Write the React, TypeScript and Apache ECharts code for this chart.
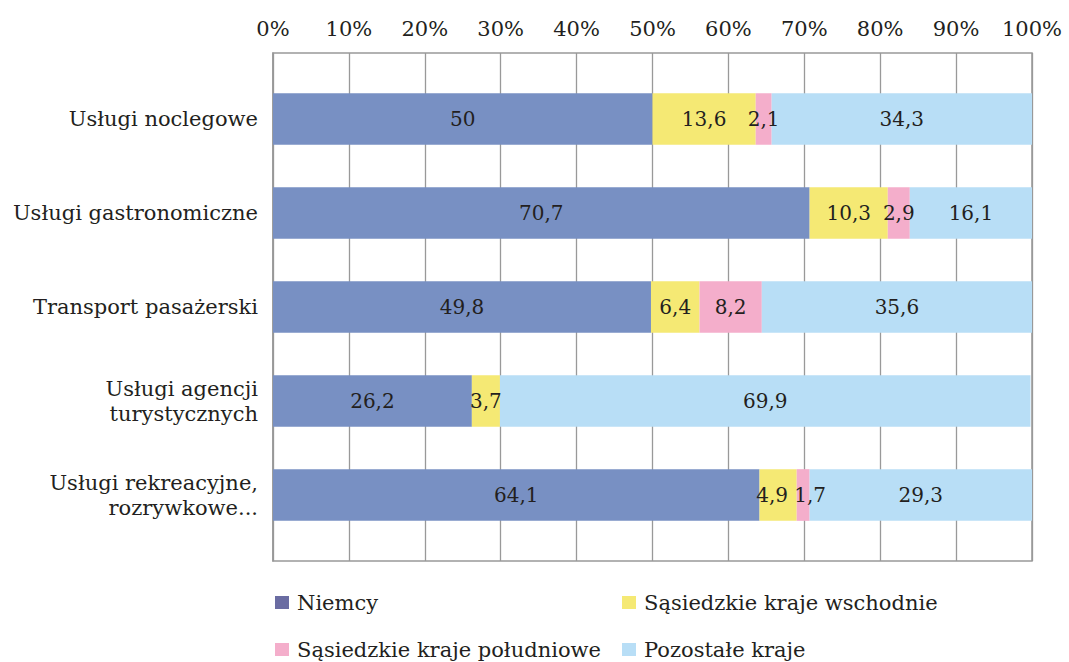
import React, { useEffect, useRef } from "react";
import * as echarts from "echarts";

const categories = [
  "Usługi noclegowe",
  "Usługi gastronomiczne",
  "Transport pasażerski",
  "Usługi agencji\nturystycznych",
  "Usługi rekreacyjne,\nrozrywkowe...",
];
const seriesNames = [
  "Niemcy",
  "Sąsiedzkie kraje wschodnie",
  "Sąsiedzkie kraje południowe",
  "Pozostałe kraje",
];
const niemcy = [50, 70.7, 49.8, 26.2, 64.1];
const wschodnie = [13.6, 10.3, 6.4, 3.7, 4.9];
const poludniowe = [2.1, 2.9, 8.2, 0, 1.7];
const pozostale = [34.3, 16.1, 35.6, 69.9, 29.3];
const tickLabels = ["0%", "10%", "20%", "30%", "40%", "50%", "60%", "70%", "80%", "90%", "100%"];

const colors = ["#7890C3", "#F5E974", "#F4AECB", "#B8DEF6"];
const legendColors = ["#6A6CA2", "#F5E974", "#F4AECB", "#B8DEF6"];
const FONT = "DejaVu Serif";
const TXT = "#231F20";

// label padding (series index -> category index -> padding) to separate crowded labels
const labelPads: Record<number, Record<number, number[]>> = {
  1: { 4: [0, 12, 0, 0] },
  2: { 4: [0, 0, 0, 14] },
};

export default function App() {
  const ref = useRef<HTMLDivElement>(null);
  useEffect(() => {
    const chart = echarts.init(ref.current!, null, { renderer: "svg" });
    const values = [niemcy, wschodnie, poludniowe, pozostale];
    const legendPos = [
      { left: 275, top: 592 },
      { left: 622, top: 592 },
      { left: 275, top: 639 },
      { left: 622, top: 639 },
    ];
    chart.setOption({
      animation: false,
      backgroundColor: "#ffffff",
      textStyle: { fontFamily: FONT },
      grid: [
        {
          left: 273,
          right: 37,
          top: 53,
          bottom: 101,
          show: true,
          borderColor: "#999999",
          borderWidth: 1.5,
        },
        {
          left: 273,
          right: 37,
          top: 72,
          bottom: 120,
          show: false,
        },
      ],
      legend: seriesNames.map((n, i) => ({
        data: [{ name: n, itemStyle: { color: legendColors[i] } }],
        left: legendPos[i].left,
        top: legendPos[i].top,
        itemWidth: 14,
        itemHeight: 13,
        itemGap: 0,
        padding: 0,
        icon: "rect",
        selectedMode: false,
        textStyle: { fontFamily: FONT, fontSize: 21, color: TXT, padding: [0, 0, 0, 3] },
      })),
      xAxis: [
        {
          type: "value",
          gridIndex: 0,
          position: "top",
          min: 0,
          max: 100,
          interval: 10,
          axisLine: { show: false },
          axisTick: { show: false },
          splitLine: { show: true, lineStyle: { color: "#999999", width: 1.3 } },
          axisLabel: {
            fontFamily: FONT,
            fontSize: 21,
            color: TXT,
            margin: 14,
            formatter: (v: number) => tickLabels[Math.round(v / 10)],
          },
        },
        {
          type: "value",
          gridIndex: 1,
          min: 0,
          max: 100,
          interval: 10,
          show: false,
        },
      ],
      yAxis: [
        {
          type: "category",
          gridIndex: 0,
          data: categories,
          inverse: true,
          axisLine: { show: true, lineStyle: { color: "#999999", width: 1.5 } },
          axisTick: { show: false },
          axisLabel: { show: false },
        },
        {
          type: "category",
          gridIndex: 1,
          data: categories,
          inverse: true,
          axisLine: { show: false },
          axisTick: { show: false },
          axisLabel: {
            fontFamily: FONT,
            fontSize: 21,
            color: TXT,
            margin: 15,
            align: "right",
            lineHeight: 25,
          },
        },
      ],
      series: seriesNames.map((n, i) => ({
        name: n,
        type: "bar",
        stack: "total",
        xAxisIndex: 1,
        yAxisIndex: 1,
        barWidth: "55%",
        itemStyle: { color: colors[i] },
        data: values[i].map((v, j) => {
          const pad = labelPads[i] && labelPads[i][j];
          return pad ? { value: v, label: { padding: pad } } : v;
        }),
        label: {
          show: true,
          position: "inside",
          fontFamily: FONT,
          fontSize: 20,
          color: TXT,
          formatter: (p: any) => (p.value ? String(p.value).replace(".", ",") : ""),
        },
      })),
    });
    return () => chart.dispose();
  }, []);
  return <div ref={ref} style={{ width: 1069, height: 662, position: "absolute", left: 0, top: 0 }} />;
}
